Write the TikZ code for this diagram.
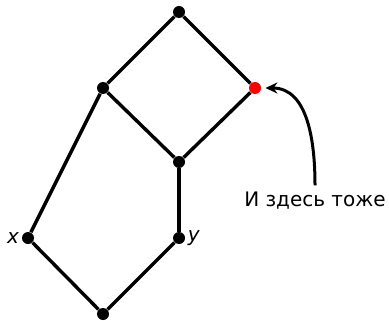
\documentclass[tikz,border=0pt]{standalone}
\usepackage{fontspec}
\setmainfont{DejaVu Sans}
\usepackage{tikz}
\usetikzlibrary{positioning}
\usetikzlibrary{arrows.meta}

\tikzset{
  vert/.style={circle, fill=black, inner sep=0pt, minimum size=6pt},
  edge/.style={line width=1.7pt},
}

\begin{document}
\begin{tikzpicture}[x=0.5pt, y=-0.5pt]
		\useasboundingbox (0,0) rectangle (389,320);

		% Vertices of the lattice
		\node[vert] (top) at (179,12) {};
		\node[vert] (l) at (103,88) {};
		\node[vert, fill=red] (r) at (255,88) {};
		\node[vert] (m) at (179,162) {};
		\node[vert, label={[inner sep=1pt]left:\textit{x}}] (x) at (28,238) {};
		\node[vert, label={[inner sep=1pt]right:\textit{y}}] (y) at (179,238) {};
		\node[vert] (bot) at (103,314) {};

		% Edges
		\foreach \a/\b in {top/l, top/r, l/m, r/m, l/x, m/y, x/bot, y/bot} {
				\draw[edge] (\a) -- (\b);
			}

		% Comment
		\node (note) at (315,201) {И здесь тоже};
		\draw[-{Stealth[length=6pt, width=5.5pt]}, line width=1.5pt] (note.north) to[out=90, in=0] ([xshift=2pt]r.east);
	\end{tikzpicture}
\end{document}
